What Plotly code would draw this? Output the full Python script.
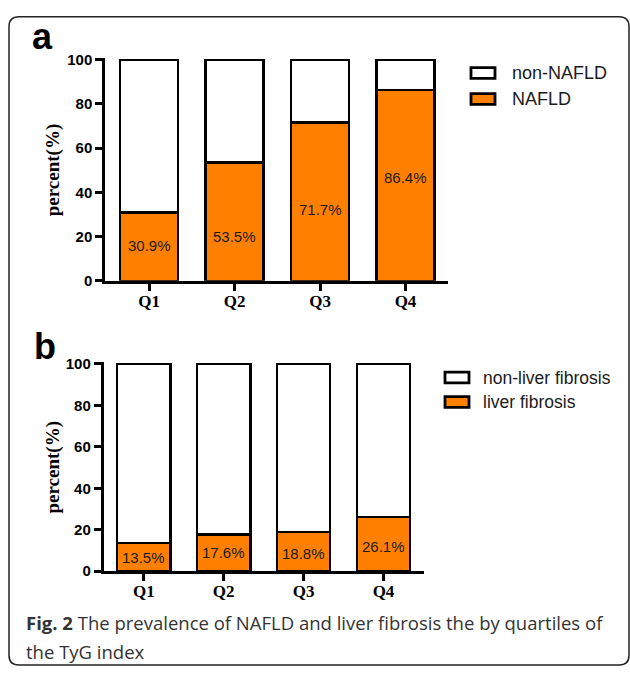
import plotly.graph_objects as go

# Quartiles of the TyG index
quartiles = ["Q1", "Q2", "Q3", "Q4"]

# Panel a: prevalence of NAFLD (%)
nafld = [30.9, 53.5, 71.7, 86.4]
non_nafld = [round(100 - v, 1) for v in nafld]

# Panel b: prevalence of liver fibrosis (%)
fibrosis = [13.5, 17.6, 18.8, 26.1]
non_fibrosis = [round(100 - v, 1) for v in fibrosis]

W, H = 630, 674
ORANGE = "#FF8000"
SANS = "Liberation Sans, Arial, sans-serif"
SERIF = "Liberation Serif, Times New Roman, serif"


def px(x):
    return x / W


def py(y):
    return 1 - y / H


# vertical placement of the percentage labels inside the orange bars (data units)
label_y_a = [15.8, 19.9, 32.4, 46.9]
label_y_b = [6.5, 8.8, 8.4, 11.8]

bar_line = dict(color="black", width=2.5)

fig = go.Figure()
fig.add_trace(go.Bar(x=quartiles, y=nafld, marker=dict(color=ORANGE, line=bar_line),
                     width=0.68, xaxis="x", yaxis="y", name="NAFLD", hoverinfo="x+y"))
fig.add_trace(go.Bar(x=quartiles, y=non_nafld, marker=dict(color="white", line=bar_line),
                     width=0.68, xaxis="x", yaxis="y", name="non-NAFLD", hoverinfo="x+y"))
fig.add_trace(go.Bar(x=quartiles, y=fibrosis, marker=dict(color=ORANGE, line=bar_line),
                     width=0.665, xaxis="x2", yaxis="y2", name="liver fibrosis", hoverinfo="x+y"))
fig.add_trace(go.Bar(x=quartiles, y=non_fibrosis, marker=dict(color="white", line=bar_line),
                     width=0.665, xaxis="x2", yaxis="y2", name="non-liver fibrosis", hoverinfo="x+y"))

xcommon = dict(type="category", showline=True, linecolor="black", linewidth=2.5,
               ticks="outside", ticklen=7, tickwidth=2.5, tickcolor="black",
               ticklabelstandoff=-4,
               showgrid=False, zeroline=False, fixedrange=True,
               tickfont=dict(family=SERIF, size=17, color="black", weight="bold"))
ycommon = dict(range=[0, 101], tickvals=[0, 20, 40, 60, 80, 100], showline=True,
               linecolor="black", linewidth=2.5, ticks="outside", ticklen=7, tickwidth=2.5,
               tickcolor="black", showgrid=False, zeroline=False, fixedrange=True,
               tickfont=dict(family=SANS, size=15, color="black", weight="bold"))

annotations = []
shapes = []


def note(x, y, text, font, **kw):
    d = dict(x=px(x), y=py(y), xref="paper", yref="paper", text=text, showarrow=False,
             xanchor="center", yanchor="middle", font=font)
    d.update(kw)
    annotations.append(d)


# percentage labels
for q, v, ly in zip(quartiles, nafld, label_y_a):
    annotations.append(dict(x=q, y=ly, xref="x", yref="y", text=f"{v}%", showarrow=False,
                            xanchor="center", yanchor="middle",
                            font=dict(family=SANS, size=15, color="#1a1a1a")))
for q, v, ly in zip(quartiles, fibrosis, label_y_b):
    annotations.append(dict(x=q, y=ly, xref="x2", yref="y2", text=f"{v}%", showarrow=False,
                            xanchor="center", yanchor="middle",
                            font=dict(family=SANS, size=15, color="#1a1a1a")))

# y-axis titles
for yc in (167, 471):
    note(53, yc, "percent(%)", dict(family=SERIF, size=19, color="black", weight="bold"),
         textangle=-90)

# panel letters
note(42, 30, "a", dict(family=SANS, size=36, color="black", weight="bold"))
note(45, 347, "b", dict(family=SANS, size=36, color="black", weight="bold"))

# legends
legend_items = [
    (471, 495, 67.5, 510, "non-NAFLD", "white", 18),
    (471, 495, 94, 510, "NAFLD", ORANGE, 18),
    (445, 469, 379, 481, "non-liver fibrosis", "white", 17.5),
    (445, 469, 404, 481, "liver fibrosis", ORANGE, 17.5),
]
for x0, x1, yc, tx, label, fill, fs in legend_items:
    shapes.append(dict(type="rect", xref="paper", yref="paper", x0=px(x0), x1=px(x1),
                       y0=py(yc + 5.5), y1=py(yc - 5.5), fillcolor=fill,
                       line=dict(color="black", width=2.8)))
    note(tx, yc, label, dict(family=SANS, size=fs, color="#1a1a1a"), xanchor="left")

# figure caption
CAP = dict(family="Open Sans, Noto Sans, sans-serif", size=18.5, color="#333333")
note(24, 630, "<b>Fig. 2</b> The prevalence of NAFLD and liver fibrosis the by quartiles of",
     CAP, xanchor="left")
note(24, 659, "the TyG index", CAP, xanchor="left")

# rounded outer frame
l, t, r, b, rad = 9, 10, 629, 673, 10
rx, ry = rad / W, rad / H
frame = (f"M {px(l)},{py(t) - ry} Q {px(l)},{py(t)} {px(l) + rx},{py(t)} "
         f"L {px(r) - rx},{py(t)} Q {px(r)},{py(t)} {px(r)},{py(t) - ry} "
         f"L {px(r)},{py(b) + ry} Q {px(r)},{py(b)} {px(r) - rx},{py(b)} "
         f"L {px(l) + rx},{py(b)} Q {px(l)},{py(b)} {px(l)},{py(b) + ry} Z")
shapes.append(dict(type="path", xref="paper", yref="paper", path=frame,
                   line=dict(color="#222222", width=1.5), fillcolor="rgba(0,0,0,0)"))

fig.update_layout(
    width=W, height=H, margin=dict(l=0, r=0, t=0, b=0),
    paper_bgcolor="white", plot_bgcolor="white",
    barmode="stack", showlegend=False,
    xaxis=dict(xcommon, domain=[px(105), px(448)], range=[-0.515, 3.497], anchor="y"),
    yaxis=dict(ycommon, domain=[py(280), py(51.7)], anchor="x"),
    xaxis2=dict(xcommon, domain=[px(103.5), px(424)], range=[-0.504, 3.507], anchor="y2"),
    yaxis2=dict(ycommon, domain=[py(577), py(362.9)], anchor="x2"),
    annotations=annotations, shapes=shapes,
)

fig.write_html("out.html")
